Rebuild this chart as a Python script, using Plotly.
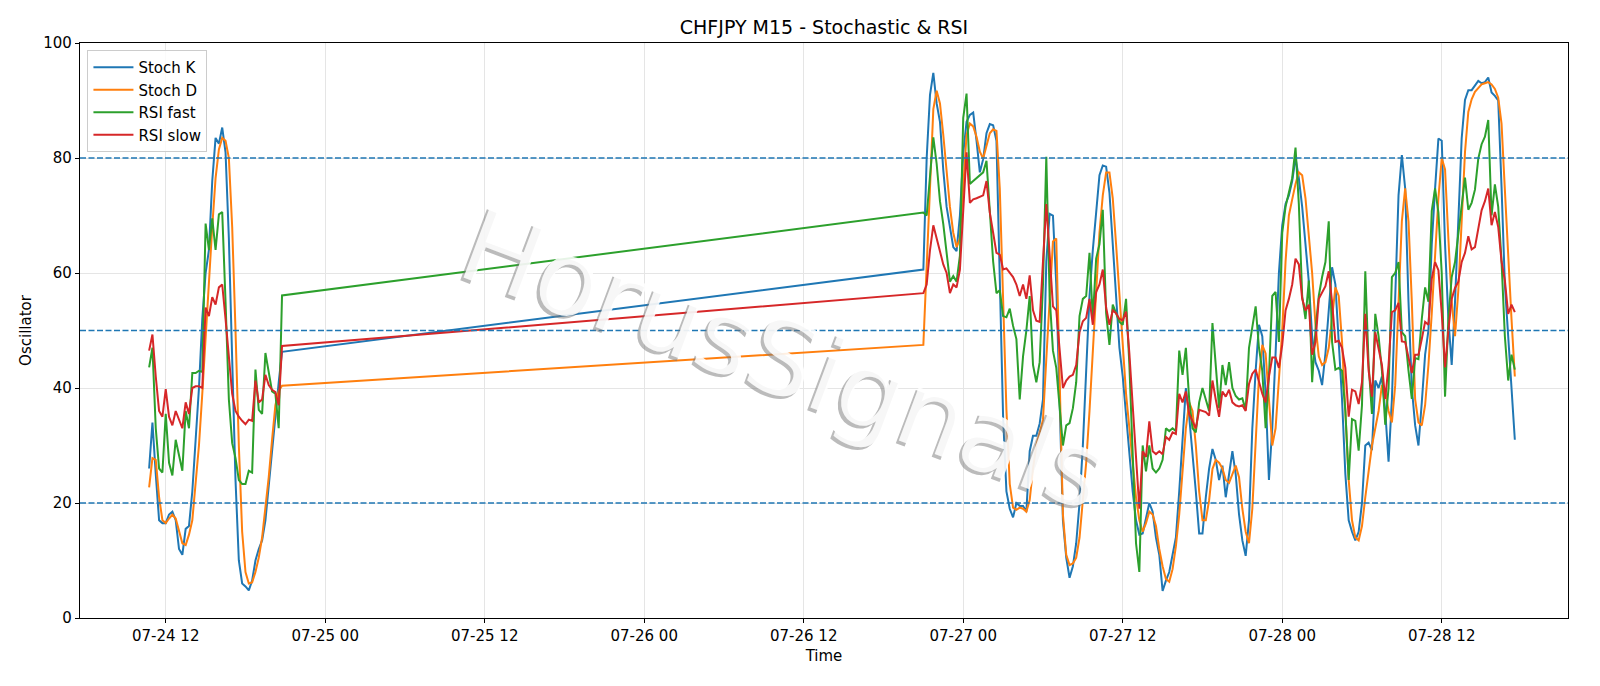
import pandas as pd
import plotly.graph_objects as go

# ---- data ----
pre_start = "2020-07-24 10:45"
post_start = "2020-07-26 21:00"

stoch_k_pre = [26, 34, 25, 17, 16.5, 16.5, 18, 18.5, 17, 12, 11, 15.5, 16, 22, 31, 40, 52, 60, 64, 76,
               83.5, 82.5, 85.3, 81, 66, 45, 24, 10, 6, 5.5, 4.8, 6.5, 10, 12, 13.5, 17, 23, 30, 36, 41, 46.3]
stoch_d_pre = [22.7, 27.8, 27.5, 21, 17, 16.5, 17.3, 18, 17.3, 15, 13, 12.7, 14.5, 17, 23, 30, 39, 49, 58, 68,
               76.5, 81.5, 83.5, 83, 80, 68, 50, 30, 15, 8, 6, 6.2, 8, 10.5, 14, 19, 24.5, 31, 37, 39.5, 40.4]
rsi_fast_pre = [43.6, 47, 33, 26, 25.3, 35.5, 27, 24.8, 31, 28.5, 25.6, 36, 33, 42.6, 42.6, 43, 42.8, 68.6, 64, 69.5,
                64, 70.2, 70.6, 55, 38, 30.4, 27.8, 24, 23.3, 23.3, 25.6, 25.3, 43.2, 36.2, 35.5, 46.1, 42.6, 39.4, 39, 33, 56.1]
rsi_slow_pre = [46.5, 49.3, 42, 36, 35, 39.8, 35, 33.5, 36, 34.5, 33, 37.5, 35.5, 40, 40.3, 40.3, 40, 54, 52.5, 55.8,
                54.5, 57.5, 58, 52, 45, 39, 36, 35, 34.3, 33.7, 34.5, 34.3, 41.3, 37.5, 38, 42.3, 40.5, 39.7, 39.3, 37, 47.3]

stoch_k_post = [
    60.6, 80, 91, 94.8, 89.5, 86.3, 77.9, 71.5, 67.7, 64.5, 63.8, 70, 80.8, 86.3, 87.5, 87.9, 83, 77.5, 79.8, 84.3,
    85.9, 85.7, 83, 58, 35, 22, 19, 17.5, 20, 19.5,
    19.5, 18.5, 29, 31.7, 31.7, 33.8, 38, 62, 70.3, 70, 58, 38, 17, 10.5, 7, 9, 13, 20, 30, 43,
    56, 64, 71, 77, 78.7, 78.5, 74, 65, 55, 47,
    42, 35, 28, 22, 17, 14.5, 14.7, 17.5, 20, 18.5, 14, 11, 4.7, 6.5, 8, 11, 14, 22, 32, 40,
    35, 29, 22, 14.7, 14.7, 21, 26, 29.4, 27.5, 24,
    26.5, 21, 25.5, 29, 25, 18, 13.5, 10.8, 17, 33, 43, 51, 49, 39, 24, 33, 46, 60, 68.3, 72,
    73.5, 76, 80, 76.5, 71.5, 65, 58.5, 49, 44.5, 43,
    40.5, 46, 54, 61, 58, 49, 38, 25, 17, 15, 13.5, 15, 20, 30, 30.5, 29.2, 41.3, 40, 42, 36,
    27.2, 38, 57, 73.5, 80.5, 74.7, 55, 40, 33.5, 30,
    37.5, 45.8, 50, 65, 74.7, 83.4, 83, 65, 52, 44, 55, 70, 83.4, 90.1, 91.8, 91.8, 92.5, 93.4, 93, 93.2,
    94, 91.4, 90.8, 90, 75, 58, 49, 39.4, 31]
stoch_d_post = [
    47.5, 62, 76, 88.5, 91.7, 89.5, 84, 78, 71.5, 67, 64.5, 66, 76, 84, 86, 85.5, 83.7, 81.1, 79.9, 82,
    84.3, 85, 84.7, 74.7, 55.5, 36.2, 23.3, 19.2, 18.8, 19.2,
    19, 18.5, 20.5, 26, 30, 32.3, 34.5, 45, 55, 65.5, 66, 40, 18, 11, 9.2, 9.5, 10.5, 14, 20.5, 27,
    36, 47, 58, 67, 73.5, 77.5, 77.5, 73, 65, 56,
    46, 39, 33, 27, 21, 17, 15, 16.5, 18.5, 18, 16, 12, 9, 6.8, 6.3, 8.5, 12.5, 18, 25.3, 33,
    37.5, 36, 30, 22, 17, 17, 20.5, 25.9, 27.5, 27,
    26, 24, 23.5, 25, 26.5, 24.5, 19, 15, 13, 19, 31, 42, 47.5, 46, 38, 30, 33, 41, 50, 62,
    70, 72.8, 75.5, 77.5, 77, 73, 67, 60, 51, 45.5,
    44, 44.5, 47, 52, 57.5, 56, 48, 36, 24, 17, 14, 13.5, 16, 21, 26, 30, 33, 36, 40.5, 39.5,
    36, 34, 40.5, 55, 69, 74.7, 69, 55, 38, 34,
    33.5, 37, 44, 53, 63, 73, 80, 78, 66, 55, 49, 57, 69, 81, 88, 90.2, 91.5, 92.2, 92.8, 93,
    93.2, 92.8, 92, 90.5, 86, 74.5, 62, 52, 42]
rsi_fast_post = [
    70.5, 70, 77, 83.6, 79, 72.5, 68.5, 63, 58.5, 59.5, 58.5, 63, 87, 91.2, 75.5, 76, 76.5, 77, 77.5, 79.5,
    71, 62, 56.5, 57, 52.5, 52.3, 53.8, 50.8, 48.5, 38,
    45.5, 50, 56, 44, 41, 44.5, 58, 80.2, 56, 46.5, 43.5, 37, 30, 33.5, 33.9, 36.5, 41, 52.5, 55.5, 56,
    63.5, 52, 62.5, 65, 71, 53, 47.5, 54.5, 53, 51.5,
    51, 55.5, 44, 30, 13, 8, 30, 25.5, 30, 26, 25.3, 26, 27.5, 33, 32.5, 33, 32.5, 46.5, 42.3, 47,
    38, 33, 32.3, 37.5, 40, 38, 36, 51.3, 43, 36.5,
    44, 40.5, 44.5, 40, 38.6, 38, 38.2, 36.2, 47, 51, 54.2, 47, 43, 33, 42, 56, 56.7, 48, 67, 71.5,
    74, 76.5, 81.8, 72, 56, 52, 58.7, 41, 50, 56,
    59.3, 61.9, 69, 48, 43.2, 43.5, 43, 36, 24, 34.6, 34.3, 29.1, 37, 60.3, 44, 35.5, 52.9, 49, 43, 33.6,
    40, 59.3, 60, 61.9, 49.7, 49, 43, 38.1, 45.2, 45,
    52, 57.5, 55, 70.8, 74.7, 70.5, 60, 38.5, 52, 59.3, 61.9, 67, 71.5, 76.6, 71, 72.2, 74.5, 79.9, 82.4, 83.7,
    86.6, 70, 75.4, 71.5, 62, 49, 41.3, 45.8, 43.2]
rsi_slow_post = [
    56.5, 58, 64, 68.3, 66, 64, 61.5, 60, 56.5, 58, 57.5, 60.6, 70, 81, 72.2, 72.8, 73, 73.2, 73.5, 76,
    70.5, 67, 63.5, 63.2, 60.6, 60.8, 60, 59.3, 58, 56,
    58, 55.5, 59.6, 53.5, 51.7, 51.5, 62, 72, 63.2, 54.2, 53.5, 47, 40, 41.3, 42, 42.3, 44, 49.7, 51.6, 52.2,
    55.5, 51, 56.7, 58, 60.6, 54, 51, 53.5, 53, 52,
    51.8, 53.3, 46, 37, 28, 19, 29, 28, 34.2, 29, 28.5, 29, 28.5, 31.5, 31, 32.3, 32, 39, 37.5, 39.4,
    35.5, 34.2, 33, 36.2, 36, 35.8, 35.2, 41.3, 38, 35,
    39.4, 38.5, 39.7, 37.5, 37, 36.8, 37, 36, 40.7, 42.5, 43.2, 41, 39, 37.5, 42, 45.3, 45.3, 43.5, 47.5, 53.5,
    55.5, 58, 62.5, 61.5, 55.5, 53.5, 54.5, 45.8, 48, 55.5,
    56.7, 57.7, 60.3, 55, 48, 48.2, 47, 43.5, 35, 39.7, 39.4, 37.2, 41, 52.9, 43, 38.5, 49.7, 47, 44, 38.1,
    44, 53.2, 53.5, 54.8, 48.1, 48, 45, 42.6, 45.8, 45.8,
    48.5, 51.5, 51, 59, 61.9, 60.5, 53, 43.6, 50, 55.5, 57.4, 58.5, 61.9, 63.5, 66.4, 64.1, 64.5, 68, 70.9, 72.5,
    74.7, 68.3, 70.6, 68, 62, 58.7, 52.9, 54.5, 53.2]

levels = [80, 50, 20]
y_ticks = [0, 20, 40, 60, 80, 100]

# ---- build ----
t = list(pd.date_range(pre_start, periods=len(stoch_k_pre), freq="15min")) + \
    list(pd.date_range(post_start, periods=len(stoch_k_post), freq="15min"))

series = [
    ("Stoch K", stoch_k_pre + stoch_k_post, "#1f77b4"),
    ("Stoch D", stoch_d_pre + stoch_d_post, "#ff7f0e"),
    ("RSI fast", rsi_fast_pre + rsi_fast_post, "#2ca02c"),
    ("RSI slow", rsi_slow_pre + rsi_slow_post, "#d62728"),
]

font = "DejaVu Sans, Arial, sans-serif"

fig = go.Figure()

# watermark (shadow + light fill)
for dx, dy, col in [(-2.5, -2.5, "rgba(120,120,120,0.5)"), (0, 0, "rgba(255,255,255,0.88)")]:
    fig.add_annotation(text="HorusSignals", xref="paper", yref="paper", x=0.473, y=0.45,
                       xshift=dx, yshift=dy, showarrow=False, textangle=20.5,
                       font=dict(family=font, size=104, color=col))

for name, vals, col in series:
    fig.add_trace(go.Scatter(x=t, y=vals, mode="lines", name=name,
                             line=dict(color=col, width=2)))

for lv in levels:
    fig.add_shape(type="line", xref="paper", x0=0, x1=1, yref="y", y0=lv, y1=lv,
                  line=dict(color="#1f77b4", width=1.3, dash="6px,2.5px"), layer="above")

fig.update_layout(
    width=1600, height=686,
    margin=dict(l=80, r=32, t=43, b=68),
    paper_bgcolor="white", plot_bgcolor="white",
    font=dict(family=font, size=15, color="black"),
    title=dict(text="CHFJPY M15 - Stochastic & RSI", x=0.5, xanchor="center",
               xref="paper", y=1 - 27 / 686, yref="container", yanchor="middle",
               font=dict(size=19, color="black")),
    legend=dict(x=0.005, y=0.988, xanchor="left", yanchor="top",
                bgcolor="rgba(255,255,255,0.85)", bordercolor="#cccccc", borderwidth=1,
                font=dict(size=15), tracegroupgap=0, itemwidth=40),
    showlegend=True,
)
fig.update_xaxes(
    type="date", range=["2020-07-24 05:33", "2020-07-28 21:30"],
    tick0="2020-07-24 00:00", dtick=43200000, tickformat="%m-%d %H",
    showgrid=True, gridcolor="#e5e5e5", gridwidth=1,
    showline=True, linecolor="black", linewidth=1.2, mirror=True,
    ticks="outside", ticklen=4, tickcolor="black", zeroline=False,
    tickfont=dict(size=15),
    title=dict(text="Time", standoff=6, font=dict(size=15)),
)
fig.update_yaxes(
    range=[0, 100], tickvals=y_ticks,
    showgrid=True, gridcolor="#e5e5e5", gridwidth=1,
    showline=True, linecolor="black", linewidth=1.2, mirror=True,
    ticks="outside", ticklen=4, tickcolor="black", zeroline=False,
    tickfont=dict(size=15),
    title=dict(text="Oscillator", standoff=8, font=dict(size=15)),
)

fig.write_html("out.html")
